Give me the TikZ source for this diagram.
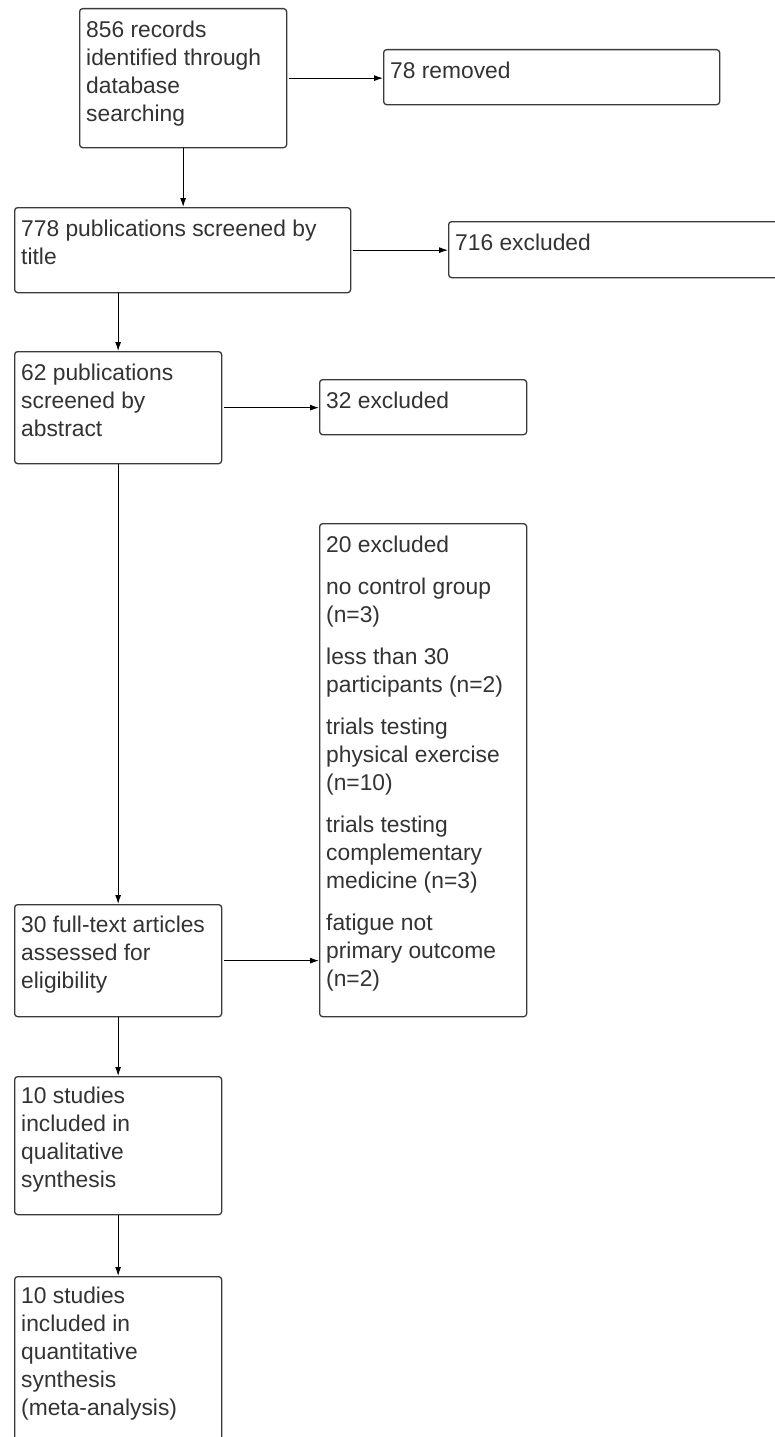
\documentclass[tikz,border=0pt]{standalone}
\usepackage{fontspec}
\setmainfont{Liberation Sans}
\usetikzlibrary{arrows.meta}
\definecolor{boxline}{HTML}{3A3A3A}
\definecolor{txtcol}{HTML}{333333}
\tikzset{
  box/.style={draw=boxline, line width=1.3pt, rounded corners=3pt, inner sep=0pt, anchor=north west},
  txt/.style={anchor=north west, inner sep=0pt, align=left, text=txtcol,
    font=\fontsize{22.8pt}{28pt}\selectfont},
  conn/.style={draw=black, line width=1pt, -{Latex[length=9pt,width=6pt]}},
  plainconn/.style={draw=black, line width=1pt}
}
\newcommand{\firstline}{\rule{0pt}{20pt}}
\begin{document}
\begin{tikzpicture}[x=1pt,y=-1pt]
\useasboundingbox[fill=white] (0,0) rectangle (774,1437);
% boxes: (left,top), width, height
\node[box, minimum width=207pt, minimum height=139pt] (b1) at (79,8) {};
\node[box, minimum width=336pt, minimum height=55pt] (r1) at (383,49) {};
\node[box, minimum width=336pt, minimum height=85pt] (b2) at (14,207) {};
\node[box, minimum width=360pt, minimum height=56pt] (r2) at (448,221) {};
\node[box, minimum width=207pt, minimum height=112pt] (b3) at (14,351) {};
\node[box, minimum width=207pt, minimum height=55pt] (r3) at (319,379) {};
\node[box, minimum width=207pt, minimum height=493pt] (r4) at (319,523) {};
\node[box, minimum width=207pt, minimum height=112pt] (b4) at (14,904) {};
\node[box, minimum width=207pt, minimum height=138pt] (b5) at (14,1076) {};
\node[box, minimum width=207pt, minimum height=200pt] (b6) at (14,1276) {};
% texts
\node[txt] (t1) at ([shift={(7pt,-9pt)}]b1.north west) {\firstline 856 records\\identified through\\database\\searching};
\node[txt] (tr1) at ([shift={(7pt,-9pt)}]r1.north west) {\firstline 78 removed};
\node[txt] (t2) at ([shift={(7pt,-9pt)}]b2.north west) {\firstline 778 publications screened by\\title};
\node[txt] (tr2) at ([shift={(7pt,-9pt)}]r2.north west) {\firstline 716 excluded};
\node[txt] (t3) at ([shift={(7pt,-9pt)}]b3.north west) {\firstline 62 publications\\screened by\\abstract};
\node[txt] (tr3) at ([shift={(7pt,-9pt)}]r3.north west) {\firstline 32 excluded};
\node[txt] (tr4) at ([shift={(7pt,-9pt)}]r4.north west) {\firstline 20 excluded\\[14pt]
no control group\\(n=3)\\[14pt]
less than 30\\participants (n=2)\\[14pt]
trials testing\\physical exercise\\(n=10)\\[14pt]
trials testing\\complementary\\medicine (n=3)\\[14pt]
fatigue not\\primary outcome\\(n=2)};
\node[txt] (t4) at ([shift={(7pt,-8pt)}]b4.north west) {\firstline 30 full-text articles\\assessed for\\eligibility};
\node[txt] (t5) at ([shift={(7pt,-7pt)}]b5.north west) {\firstline 10 studies\\included in\\qualitative\\synthesis};
\node[txt] (t6) at ([shift={(7pt,-7pt)}]b6.north west) {\firstline 10 studies\\included in\\quantitative\\synthesis\\(meta-analysis)};
% connectors
\draw[conn] ([xshift=2pt]b1.east) -- (b1.east -| r1.west);
\draw[conn] (b1.south) -- (b1.south |- b2.north);
\draw[conn] ([xshift=2pt]b2.east) -- (b2.east -| r2.west);
\draw[conn] (b3.north |- b2.south) -- (b3.north);
\draw[conn] ([xshift=2pt]b3.east) -- (b3.east -| r3.west);
\draw[conn] (b3.south) -- (b4.north);
\draw[conn] ([xshift=2pt]b4.east) -- (b4.east -| r4.west);
\draw[conn] (b4.south) -- (b5.north);
\draw[conn] (b5.south) -- (b6.north);
\end{tikzpicture}
\end{document}
